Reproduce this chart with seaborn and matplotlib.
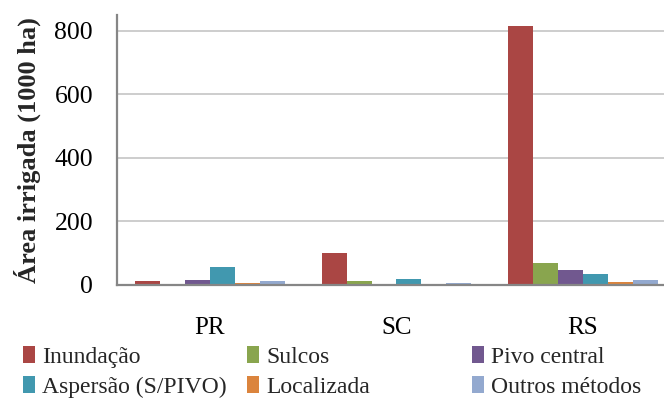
import matplotlib
matplotlib.use("Agg")
import matplotlib.pyplot as plt
from matplotlib.patches import Patch
import pandas as pd
import seaborn as sns

# Irrigated area (1000 ha) by state and irrigation method
estados = ["PR", "SC", "RS"]
metodos = ["Inundação", "Sulcos", "Pivo central",
           "Aspersão (S/PIVO)", "Localizada", "Outros métodos"]
inundacao = [11, 100, 815]
sulcos = [0, 11, 69]
pivo_central = [14, 0, 47]
aspersao = [56, 17, 34]
localizada = [7, 0, 8]
outros_metodos = [11, 5, 14]
y_ticks = [0, 200, 400, 600, 800]

cores = ["#AA4644", "#89A54E", "#71588F", "#4198AF", "#DB843D", "#93A9CF"]

series = [inundacao, sulcos, pivo_central, aspersao, localizada, outros_metodos]
rows = []
for metodo, valores in zip(metodos, series):
    for estado, v in zip(estados, valores):
        rows.append({"estado": estado, "metodo": metodo, "area": v})
df = pd.DataFrame(rows)

sns.set_style("white")
plt.rcParams["font.family"] = ["Liberation Serif", "DejaVu Serif"]

W, H = 664, 398
fig = plt.figure(figsize=(W / 100, H / 100), dpi=100)
left_px, right_px = 116.7, 676.2
bottom_px, top_px = 284.8, 15
ax = fig.add_axes([left_px / W, (H - bottom_px) / H,
                   (right_px - left_px) / W, (bottom_px - top_px) / H])

sns.barplot(data=df, x="estado", y="area", hue="metodo", order=estados,
            hue_order=metodos, palette=cores, saturation=1, width=0.8,
            linewidth=0, errorbar=None, legend=False, ax=ax)

ax.set_xlim(-0.5, 2.5)
ax.set_ylim(0, 850)
ax.set_yticks(y_ticks)
ax.set_xlabel("")
ax.set_ylabel("Área irrigada (1000 ha)", fontsize=19, fontweight="bold",
              labelpad=10)

axis_gray = "#868686"
for s in ["top", "right"]:
    ax.spines[s].set_visible(False)
for s in ["left", "bottom"]:
    ax.spines[s].set_color(axis_gray)
    ax.spines[s].set_linewidth(1.6)

ax.set_axisbelow(True)
ax.yaxis.grid(True, color="#C0C0C0", linewidth=1.1)
ax.xaxis.grid(False)

ax.tick_params(axis="y", which="major", direction="out", length=5,
               width=1.4, color=axis_gray, labelsize=18.5, pad=12,
               labelcolor="black")
ax.set_xticks([0, 1, 2])
ax.set_xticklabels(estados)
ax.set_xticks([-0.5, 0.5, 1.5, 2.5], minor=True)
ax.tick_params(axis="x", which="major", length=0, labelsize=18, pad=23,
               labelcolor="black")
ax.tick_params(axis="x", which="minor", direction="out", length=4,
               width=1.4, color=axis_gray)

# Legend laid out as three equal-width columns, two rows
ordem = [(0, 3), (1, 4), (2, 5)]
col_x = [23, 247, 472]
for (a, b), x in zip(ordem, col_x):
    handles = [Patch(facecolor=cores[i], edgecolor="none") for i in (a, b)]
    labels = [metodos[a], metodos[b]]
    fig.legend(handles, labels, loc="upper left",
               bbox_to_anchor=(x / W, (H - 346) / H),
               frameon=False, borderpad=0, borderaxespad=0,
               handlelength=0.5, handleheight=0.75, handletextpad=0.3,
               labelspacing=0.35, fontsize=17)

fig.savefig("out.png", dpi=100)
